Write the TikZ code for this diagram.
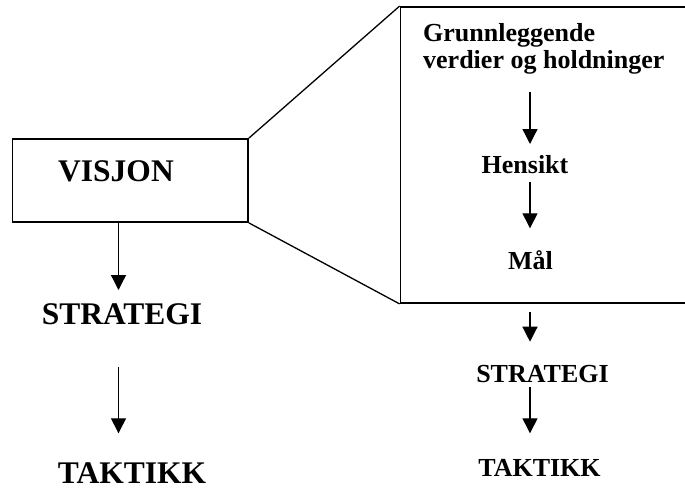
\documentclass[tikz,border=0pt]{standalone}
\usepackage{fontspec}
\setmainfont{Liberation Serif}
\usetikzlibrary{arrows.meta}

\tikzset{
  frame/.style={draw=black, line width=1.8pt, inner sep=0pt},
  link/.style={draw=black, line width=1.3pt},
  arr/.style={draw=black, line width=1.3pt, -{Triangle[width=15pt,length=15pt]}},
  bigtxt/.style={inner sep=0pt, anchor=base, font=\bfseries\fontsize{31.5}{36}\selectfont},
  smalltxt/.style={inner sep=0pt, anchor=base, font=\bfseries\fontsize{26}{30}\selectfont},
}

\begin{document}
\begin{tikzpicture}[x=1pt, y=-1pt]
  \useasboundingbox (0,0) rectangle (685,487);

  % boxes
  \node[frame, minimum width=235.5pt, minimum height=83pt] (vis) at (130.25,180.5) {};
  \node[frame, minimum width=289.5pt, minimum height=296pt] (zoom) at (545.25,155) {};

  % fan lines joining the small box to the enlarged one
  \draw[link] (vis.north east) -- (zoom.north west);
  \draw[link] (vis.south east) -- (zoom.south west);

  % left column
  \node[bigtxt] (visjon) at (116,181.7) {VISJON};
  \node[bigtxt] (strL) at (122,324) {STRATEGI};
  \node[bigtxt] (takL) at (132,483) {TAKTIKK};

  \coordinate (l1a) at (118.5,222.3);
  \coordinate (l1b) at (118.5,290);
  \coordinate (l2a) at (118.5,366.7);
  \coordinate (l2b) at (118.5,433.3);
  \draw[arr] (l1a) -- (l1b);
  \draw[arr] (l2a) -- (l2b);

  % right column
  \node[smalltxt, anchor=base west] (grunn) at (423,42) {Grunnleggende};
  \node[smalltxt, anchor=base west] (verdi) at (423,69) {verdier og holdninger};
  \node[smalltxt] (hens) at (525,173.3) {Hensikt};
  \node[smalltxt] (maal) at (530.5,269.3) {Mål};
  \node[smalltxt] (strR) at (542.5,382.7) {STRATEGI};
  \node[smalltxt] (takR) at (539.5,476) {TAKTIKK};

  \coordinate (r1a) at (530,91.7);
  \coordinate (r1b) at (530,144);
  \coordinate (r2a) at (530,181.7);
  \coordinate (r2b) at (530,228.3);
  \coordinate (r3a) at (530,311.7);
  \coordinate (r3b) at (530,341.7);
  \coordinate (r4a) at (530,387);
  \coordinate (r4b) at (530,433.3);
  \draw[arr] (r1a) -- (r1b);
  \draw[arr] (r2a) -- (r2b);
  \draw[arr] (r3a) -- (r3b);
  \draw[arr] (r4a) -- (r4b);
\end{tikzpicture}
\end{document}
